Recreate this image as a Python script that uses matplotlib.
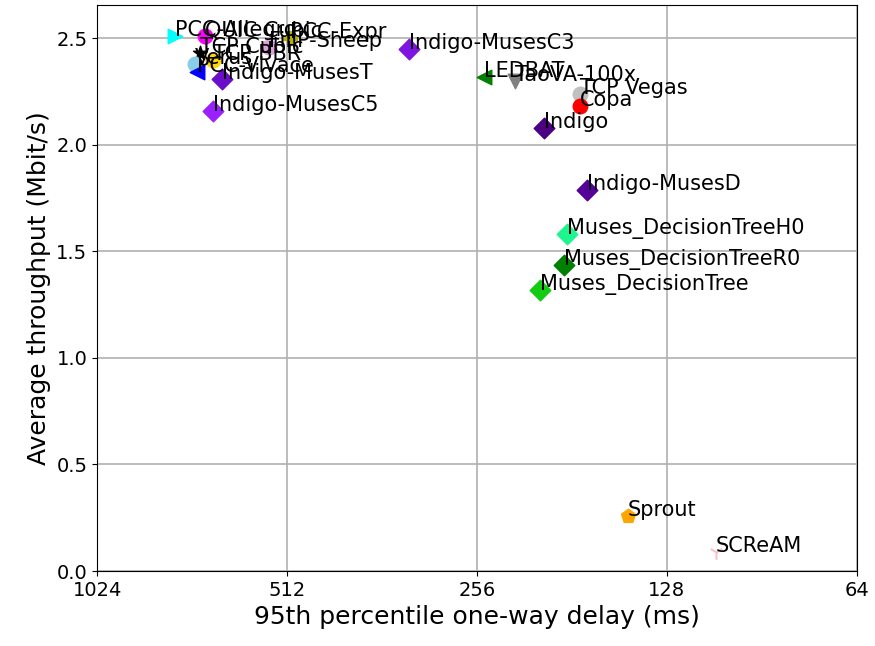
import matplotlib
matplotlib.use('Agg')
import matplotlib.pyplot as plt
from matplotlib.ticker import FixedLocator, NullLocator

schemes = ['PCC-Allegro', 'QUIC Cubic', 'PCC-Expr', 'FillP-Sheep', 'TCP Cubic',
           'TCP BBR', 'Verus', 'PCC-Vivace', 'Indigo-MusesT', 'Indigo-MusesC5',
           'Indigo-MusesC3', 'LEDBAT', 'TaoVA-100x', 'TCP Vegas', 'Copa', 'Indigo',
           'Indigo-MusesD', 'Muses_DecisionTreeH0', 'Muses_DecisionTreeR0',
           'Muses_DecisionTree', 'Sprout', 'SCReAM']
delay = [770, 690, 506, 546, 703, 671, 716, 711, 649, 671,
         328, 249, 223, 176, 176, 200,
         171, 184, 186, 203, 147.5, 107]
tput = [2.51, 2.51, 2.50, 2.46, 2.43, 2.40, 2.38, 2.34, 2.31, 2.16,
        2.45, 2.32, 2.30, 2.24, 2.18, 2.08,
        1.79, 1.58, 1.435, 1.32, 0.258, 0.089]
colors = ['cyan', 'magenta', '#b8b000', 'plum', 'black', 'gold', 'skyblue', 'blue',
          '#6a0dc8', '#9b1fff', '#7d14e0', 'green', 'gray', 'silver', 'red', '#4b0082',
          '#550099', '#1ff58f', 'green', '#11cc11', 'orange', 'pink']
markers = ['>', 'o', 'P', 'o', '*', 'o', 'o', '<', 'D', 'D',
           'D', '<', 'v', 'o', 'o', 'D',
           'D', 'D', 'D', 'D', 'p', '1']

fig, ax = plt.subplots(figsize=(8.75, 6.46), dpi=100)
fig.subplots_adjust(left=0.111, right=0.979, bottom=0.116, top=0.992)

for name, d, t, c, m in zip(schemes, delay, tput, colors, markers):
    ax.scatter(d, t, color=c, marker=m, s=110, zorder=3)
    ax.annotate(name, (d, t), fontsize=15, zorder=4)

ax.set_xscale('log', base=2)
ax.set_xlim(1024, 64)
ax.xaxis.set_major_locator(FixedLocator([1024, 512, 256, 128, 64]))
ax.xaxis.set_minor_locator(NullLocator())
ax.set_xticklabels(['1024', '512', '256', '128', '64'])
ax.set_ylim(0, 2.655)
ax.set_yticks([0.0, 0.5, 1.0, 1.5, 2.0, 2.5])
ax.tick_params(labelsize=14)
ax.grid(True, color='#b0b0b0', linewidth=1.2)
ax.set_axisbelow(True)
ax.set_xlabel('95th percentile one-way delay (ms)', fontsize=18)
ax.set_ylabel('Average throughput (Mbit/s)', fontsize=18)

fig.savefig('out.png')
